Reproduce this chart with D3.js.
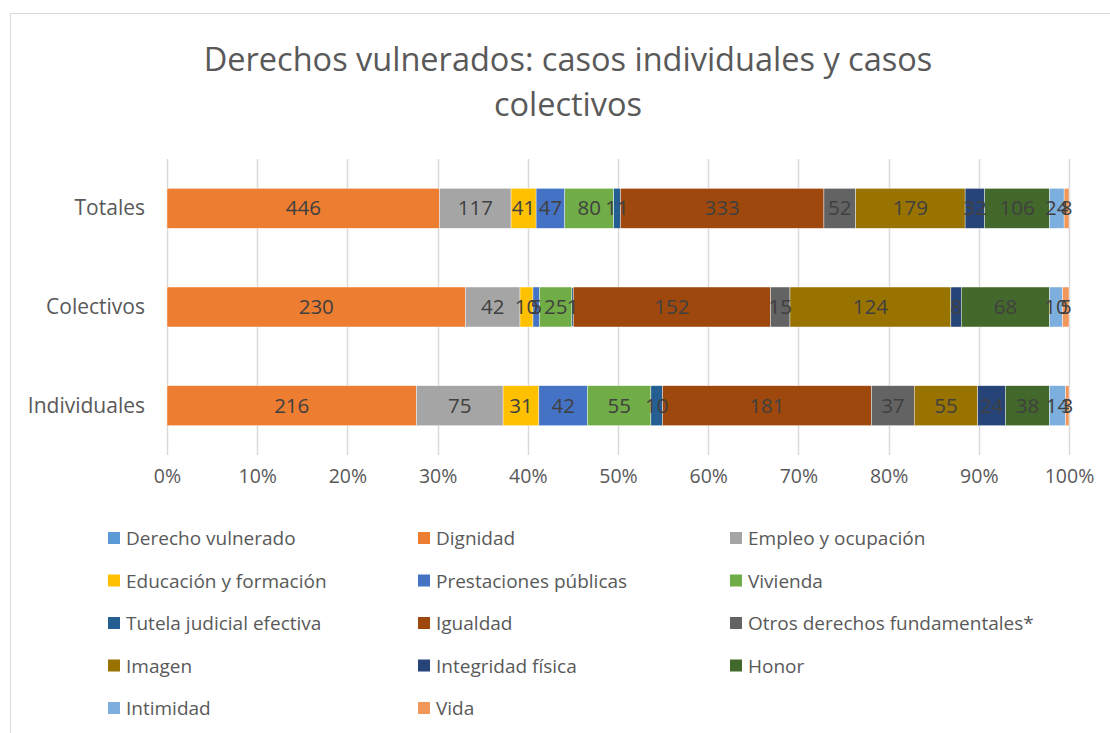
<!DOCTYPE html>
<meta charset="utf-8">
<style>
body { margin: 0; background: #fff; }
text { font-family: "Open Sans", Lato, sans-serif; }
</style>
<svg width="1110" height="733"></svg>
<script src="https://d3js.org/d3.v7.min.js"></script>
<script>

// Data
var categories = ["Totales", "Colectivos", "Individuales"];

var seriesNames = ["Derecho vulnerado", "Dignidad", "Empleo y ocupación", "Educación y formación",
  "Prestaciones públicas", "Vivienda", "Tutela judicial efectiva", "Igualdad",
  "Otros derechos fundamentales*", "Imagen", "Integridad física", "Honor", "Intimidad", "Vida"];

var totales      = [0, 446, 117, 41, 47, 80, 11, 333, 52, 179, 32, 106, 24, 8];
var colectivos   = [0, 230, 42, 10, 5, 25, 1, 152, 15, 124, 8, 68, 10, 5];
var individuales = [0, 216, 75, 31, 42, 55, 10, 181, 37, 55, 24, 38, 14, 3];

var tickValues = [0, 0.1, 0.2, 0.3, 0.4, 0.5, 0.6, 0.7, 0.8, 0.9, 1];

var colors = ["#5B9BD5", "#ED7D31", "#A5A5A5", "#FFC000", "#4472C4", "#70AD47", "#255E91",
  "#9E480E", "#636363", "#997300", "#264478", "#43682B", "#7CAFDD", "#F1975A"];

var svg = d3.select("svg");

// chart border
svg.append("rect")
    .attr("x", 10.5).attr("y", 13.5)
    .attr("width", 1120).attr("height", 740)
    .attr("fill", "none")
    .attr("stroke", "#d9d9d9");

// title
var title = svg.append("text")
    .attr("text-anchor", "middle")
    .attr("fill", "#595959")
    .attr("font-size", 32.5);
title.append("tspan").attr("x", 568).attr("y", 71).text("Derechos vulnerados: casos individuales y casos");
title.append("tspan").attr("x", 568).attr("y", 116).text("colectivos");

// build rows
var rows = [totales, colectivos, individuales].map(function(vals, i) {
  var total = d3.sum(vals);
  var row = { cat: categories[i] };
  seriesNames.forEach(function(s, j) { row[s] = vals[j] / total; row[s + "_v"] = vals[j]; });
  return row;
});

var stack = d3.stack().keys(seriesNames);
var layers = stack(rows);

var x = d3.scaleLinear().domain([0, 1]).range([167, 1069]);
var y = d3.scaleBand().domain(categories).range([159, 455]).paddingInner(0.595).paddingOuter(0.2975);

// gridlines
svg.append("g")
  .selectAll("line")
  .data(tickValues)
  .enter().append("line")
    .attr("x1", function(d) { return Math.round(x(d)) + 0.5; })
    .attr("x2", function(d) { return Math.round(x(d)) + 0.5; })
    .attr("y1", 159).attr("y2", 455)
    .attr("stroke", "#d9d9d9")
    .attr("stroke-width", 1.5);

// bars
var layer = svg.append("g")
  .selectAll("g")
  .data(layers)
  .enter().append("g")
    .attr("fill", function(d, i) { return colors[i]; });

layer.selectAll("rect")
  .data(function(d) { return d; })
  .enter().append("rect")
    .attr("x", function(d) { return x(d[0]); })
    .attr("y", function(d) { return y(d.data.cat); })
    .attr("width", function(d) { return x(d[1]) - x(d[0]); })
    .attr("height", y.bandwidth())
    .attr("stroke", "#fff")
    .attr("stroke-width", 0.4);

// data labels, drawn on top of all bars
var labels = svg.append("g");
layers.forEach(function(l) {
  labels.append("g")
    .selectAll("text")
    .data(l.filter(function(d) { return d.data[l.key + "_v"] > 0; }))
    .enter().append("text")
      .attr("x", function(d) { return (x(d[0]) + x(d[1])) / 2; })
      .attr("y", function(d) { return y(d.data.cat) + y.bandwidth() / 2 + 7; })
      .attr("text-anchor", "middle")
      .attr("font-size", 20.5)
      .attr("fill", "#404040")
      .text(function(d) { return d.data[l.key + "_v"]; });
});

// category axis labels
svg.append("g")
  .selectAll("text")
  .data(categories)
  .enter().append("text")
    .attr("x", 145)
    .attr("y", function(d) { return y(d) + y.bandwidth() / 2 + 7; })
    .attr("text-anchor", "end")
    .attr("font-size", 21)
    .attr("fill", "#595959")
    .text(function(d) { return d; });

// x axis
var xAxis = svg.append("g")
    .attr("transform", "translate(0,455)")
    .call(d3.axisBottom(x).tickValues(tickValues).tickFormat(d3.format(".0%")).tickSize(0).tickPadding(14));
xAxis.select(".domain").remove();
xAxis.selectAll("text")
    .attr("font-size", 19.5)
    .attr("fill", "#595959")
    .attr("font-family", "'Open Sans', Lato, sans-serif");

// legend
var legend = svg.append("g")
  .selectAll("g")
  .data(seriesNames)
  .enter().append("g")
    .attr("transform", function(d, i) {
      return "translate(" + [108, 418, 730][i % 3] + "," + (532 + Math.floor(i / 3) * 42.5) + ")";
    });

legend.append("rect")
    .attr("width", 12).attr("height", 12)
    .attr("fill", function(d, i) { return colors[i]; });

legend.append("text")
    .attr("x", 18).attr("y", 13)
    .attr("font-size", 19)
    .attr("fill", "#595959")
    .text(function(d) { return d; });

</script>
